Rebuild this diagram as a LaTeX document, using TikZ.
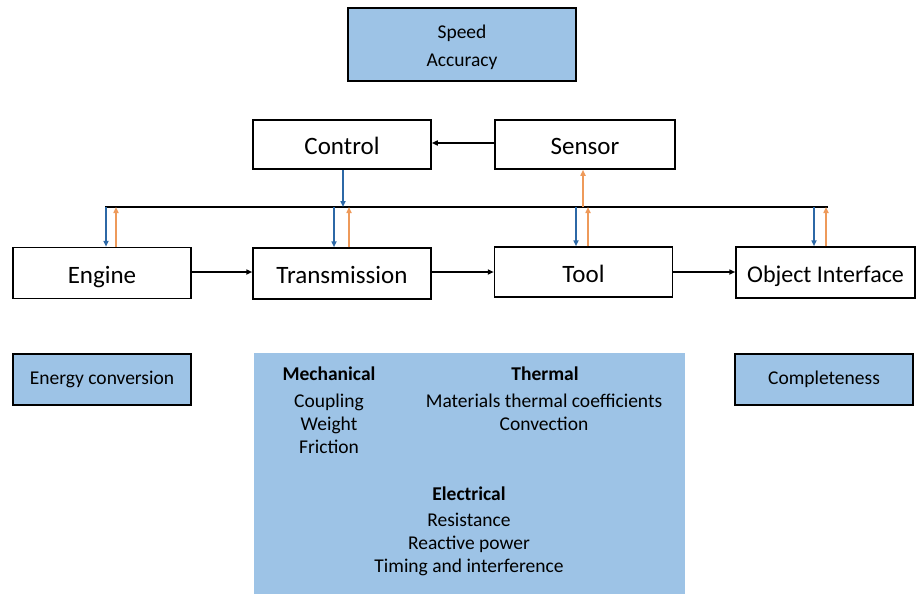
\documentclass[tikz,border=0pt]{standalone}
\usepackage{fontspec}
\setmainfont{Carlito}
\usetikzlibrary{arrows.meta}
\definecolor{lb}{HTML}{9DC3E6}
\definecolor{ab}{HTML}{2C68A6}
\definecolor{ao}{HTML}{EE9A5A}
\tikzset{
  bigbox/.style={draw=black,line width=1.5pt,fill=white,inner sep=0pt,text height=20pt,text depth=0pt,font=\fontsize{25}{30}\selectfont},
  infobox/.style={draw=black,line width=1.3pt,fill=lb,inner sep=0pt,font=\fontsize{19.5}{23}\selectfont},
  txt/.style={inner sep=0pt,align=center,font=\fontsize{19.5}{23}\selectfont},
  hd/.style={inner sep=0pt,font=\fontsize{19.5}{23}\selectfont\bfseries},
  blk/.style={draw=black,line width=1.5pt,-{Triangle[length=6pt,width=5pt]}},
  bla/.style={draw=ab,line width=1.8pt,-{Triangle[length=6pt,width=5pt]}},
  ora/.style={draw=ao,line width=1.8pt,-{Triangle[length=6pt,width=5pt]}},
}
\begin{document}
\begin{tikzpicture}[x=1pt,y=-1pt]
\useasboundingbox (0,0) rectangle (916,594);
% top info box
\node[infobox,minimum width=228pt,minimum height=73pt] (speed) at (462,44.5) {};
\node[txt,font=\fontsize{19.5}{28}\selectfont] (speedt) at (462,47.5) {Speed\\Accuracy};
% control & sensor
\node[bigbox,minimum width=178pt,minimum height=49pt] (control) at (342,144.5) {Control};
\node[bigbox,minimum width=180pt,minimum height=49pt] (sensor) at (585,144.5) {Sensor};
\draw[blk] (sensor.west |- 0,143) -- (control.east |- 0,143);
% main chain
\node[bigbox,minimum width=178pt,minimum height=51pt] (engine) at (102,273) {Engine};
\node[bigbox,minimum width=178pt,minimum height=51pt] (trans) at (342,273.5) {Transmission};
\node[bigbox,minimum width=178pt,minimum height=50pt] (tool) at (583.5,272) {Tool};
\node[bigbox,minimum width=179pt,minimum height=51pt,font=\fontsize{24}{29}\selectfont] (obj) at (825.5,272.5) {Object Interface};
\draw[blk] (engine.east |- 0,272) -- (trans.west |- 0,272);
\draw[blk] (trans.east |- 0,272) -- (tool.west |- 0,272);
\draw[blk] (tool.east |- 0,272) -- (obj.west |- 0,272);
% bus
\coordinate (busL) at (105,207);
\coordinate (busR) at (828,207);
\draw[black,line width=1.5pt] (busL) -- (busR);
\coordinate (c1) at (343,207);
\coordinate (s1) at (583,207);
\draw[bla] (control.south -| c1) -- (c1);
\draw[ora] (s1) -- (sensor.south -| s1);
\coordinate (eb) at (106,207); \coordinate (eo) at (116,207);
\coordinate (tb) at (334,207); \coordinate (tro) at (349,207);
\coordinate (lb1) at (576,207); \coordinate (lo1) at (588,207);
\coordinate (ob) at (814,207); \coordinate (oo) at (826,207);
\draw[bla] (eb) -- (engine.north -| eb);
\draw[ora] (engine.north -| eo) -- (eo);
\draw[bla] (tb) -- (trans.north -| tb);
\draw[ora] (trans.north -| tro) -- (tro);
\draw[bla] (lb1) -- (tool.north -| lb1);
\draw[ora] (tool.north -| lo1) -- (lo1);
\draw[bla] (ob) -- (obj.north -| ob);
\draw[ora] (obj.north -| oo) -- (oo);
% bottom boxes
\node[infobox,minimum width=178pt,minimum height=51pt] (energy) at (102,379.5) {Energy conversion};
\node[infobox,minimum width=178pt,minimum height=51pt] (compl) at (824,379.5) {Completeness};
\node[fill=lb,inner sep=0pt,minimum width=431pt,minimum height=241pt] (phys) at (469.5,473.5) {};
\node[hd] (mech) at (329,374) {Mechanical};
\node[txt] (mecht) at (329,424) {Coupling\\Weight\\Friction};
\node[hd] (therm) at (545,374) {Thermal};
\node[txt] (thermt) at (544,412.5) {Materials thermal coefficients\\Convection};
\node[hd] (elec) at (469,494) {Electrical};
\node[txt] (elect) at (469,544) {Resistance\\Reactive power\\Timing and interference};
\end{tikzpicture}
\end{document}
